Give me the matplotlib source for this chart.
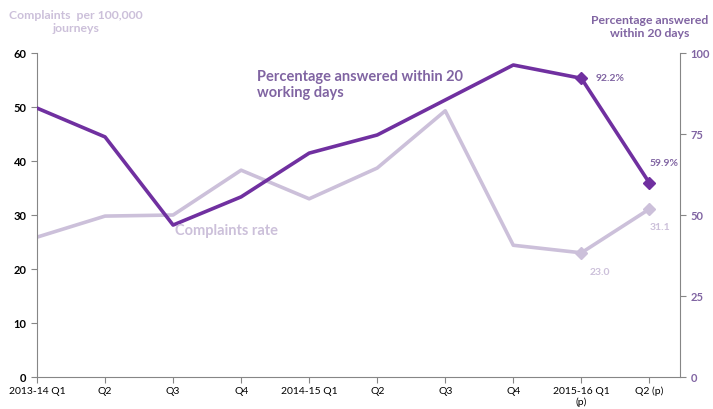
import numpy as np
import matplotlib.pyplot as plt

plt.rcParams['font.family'] = ['Lato', 'DejaVu Sans']

# ---- data ----
quarters = ['2013-14 Q1', 'Q2', 'Q3', 'Q4', '2014-15 Q1', 'Q2', 'Q3', 'Q4',
            '2015-16 Q1\n(p)', 'Q2 (p)']
complaints_rate = [25.9, 29.8, 30.0, 38.3, 33.0, 38.7, 49.3, 24.4, 23.0, 31.1]
pct_answered = [83.0, 74.1, 46.9, 55.6, 69.1, 74.7, 85.5, 96.3, 92.2, 59.9]

DARK = '#7030A0'
LIGHT = '#CCC0DA'
MID = '#8064A2'
AXIS = '#868686'

x = np.arange(len(quarters))

fig = plt.figure(figsize=(7.13, 4.09), dpi=100)
ax = fig.add_axes([0.0519, 0.0782, 0.9018, 0.7922])
ax2 = ax.twinx()

ax.plot(x, complaints_rate, color=LIGHT, lw=2.6, zorder=2)
ax.plot(x[-2:], complaints_rate[-2:], ls='none', marker='D', ms=6, color=LIGHT)
ax2.plot(x, pct_answered, color=DARK, lw=2.6, zorder=3)
ax2.plot(x[-2:], pct_answered[-2:], ls='none', marker='D', ms=6, color=DARK)

ax.set_xlim(0, 9.45)
ax.set_ylim(0, 60)
ax2.set_ylim(0, 100)
ax.set_yticks(range(0, 61, 10))
ax2.set_yticks(range(0, 101, 25))
ax.set_xticks(x)
ax.set_xticklabels(quarters, fontsize=7.5)

for a in (ax, ax2):
    for s in a.spines.values():
        s.set_visible(False)
    a.tick_params(length=4, width=0.8, color=AXIS)
ax.spines['left'].set_visible(True)
ax.spines['bottom'].set_visible(True)
ax2.spines['right'].set_visible(True)
ax.spines['left'].set_color(AXIS)
ax.spines['bottom'].set_color(AXIS)
ax2.spines['right'].set_color(AXIS)
ax.tick_params(axis='x', pad=3)

for lbl in ax.get_yticklabels():
    lbl.set_fontweight('bold')
    lbl.set_fontsize(8)
for lbl in ax2.get_yticklabels():
    lbl.set_fontweight('bold')
    lbl.set_fontsize(8)
    lbl.set_color(MID)

# data labels
ax2.annotate(f'{pct_answered[-2]}%', (x[-2], pct_answered[-2]), xytext=(10, 0),
             textcoords='offset points', va='center', fontsize=7.5,
             fontweight='bold', color=MID)
ax2.annotate(f'{pct_answered[-1]}%', (x[-1], pct_answered[-1]), xytext=(0, 14),
             textcoords='offset points', va='center', fontsize=7.5,
             fontweight='bold', color=MID)
ax.annotate(f'{complaints_rate[-2]:.1f}', (x[-2], complaints_rate[-2]), xytext=(6, -14),
            textcoords='offset points', va='center', fontsize=7.5,
            fontweight='bold', color=LIGHT)
ax.annotate(f'{complaints_rate[-1]:.1f}', (x[-1], complaints_rate[-1]), xytext=(0, -13),
            textcoords='offset points', va='center', fontsize=7.5,
            fontweight='bold', color=LIGHT)

# series names
fig.text(257 / 713, 1 - 85 / 409, 'Percentage answered within 20\nworking days',
         fontsize=10.5, fontweight='bold', color=MID, va='center', ha='left',
         linespacing=1.2)
fig.text(175 / 713, 1 - 231 / 409, 'Complaints rate', fontsize=10.5,
         fontweight='bold', color=LIGHT, va='center', ha='left')

# axis titles
fig.text(76 / 713, 1 - 22 / 409, 'Complaints  per 100,000\njourneys', fontsize=8.8,
         fontweight='bold', color=LIGHT, ha='center', va='center', linespacing=1.3)
fig.text(650 / 713, 1 - 27 / 409, 'Percentage answered\nwithin 20 days', fontsize=8.8,
         fontweight='bold', color=MID, ha='center', va='center', linespacing=1.3)

fig.savefig('out.png', dpi=100)
